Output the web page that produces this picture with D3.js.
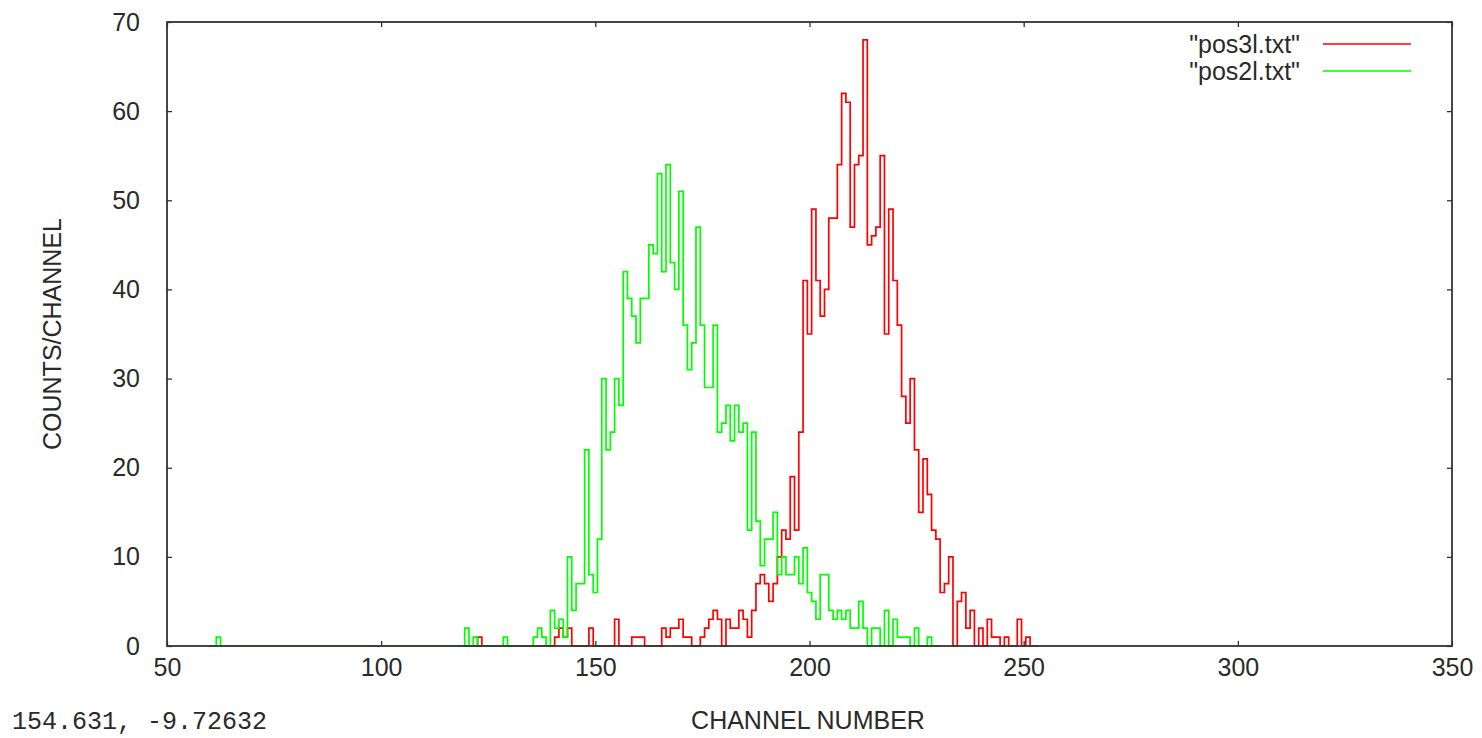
<!DOCTYPE html>
<html>
<head>
<meta charset="utf-8">
<script src="https://cdn.jsdelivr.net/npm/d3@7"></script>
<style>
  body { margin: 0; background: #fff; }
  text { font-family: "Liberation Sans", Arial, sans-serif; fill: #2a2a2a; }
</style>
</head>
<body>
<svg id="graph" width="1482" height="738"></svg>
<script>
// channel counts, one value per channel starting at the *Start channel
var pos3Start = 120;
var pos3Counts = [
  0, 0, 0, 1, 0, 0, 0, 0, 0, 0,        // 120
  0, 0, 0, 0, 0, 0, 0, 0, 0, 0,        // 130
  0, 1, 2, 1, 2, 0, 0, 0, 0, 2,        // 140
  0, 0, 0, 0, 0, 3, 0, 0, 0, 1,        // 150
  1, 1, 0, 0, 0, 0, 2, 1, 2, 2,        // 160
  3, 1, 1, 0, 0, 1, 2, 3, 4, 3,        // 170
  0, 3, 2, 2, 4, 3, 1, 4, 7, 8,        // 180
  7, 5, 7, 10, 13, 12, 19, 13, 24, 41, // 190
  35, 49, 41, 37, 40, 48, 48, 54, 62, 61, // 200
  47, 54, 55, 68, 45, 46, 47, 55, 35, 49, // 210
  41, 36, 28, 25, 30, 22, 15, 21, 17, 13, // 220
  12, 6, 7, 10, 0, 5, 6, 2, 4, 0,      // 230
  2, 0, 3, 1, 1, 0, 1, 0, 0, 3,        // 240
  0, 1, 0, 0                           // 250
];

var pos2Start = 60;
var pos2Counts = [
  0, 0, 1, 0, 0, 0, 0, 0, 0, 0,        // 60
  0, 0, 0, 0, 0, 0, 0, 0, 0, 0,        // 70
  0, 0, 0, 0, 0, 0, 0, 0, 0, 0,        // 80
  0, 0, 0, 0, 0, 0, 0, 0, 0, 0,        // 90
  0, 0, 0, 0, 0, 0, 0, 0, 0, 0,        // 100
  0, 0, 0, 0, 0, 0, 0, 0, 0, 0,        // 110
  2, 0, 1, 0, 0, 0, 0, 0, 0, 1,        // 120
  0, 0, 0, 0, 0, 0, 1, 2, 1, 0,        // 130
  4, 2, 3, 1, 10, 4, 7, 7, 22, 8,      // 140
  6, 12, 30, 22, 24, 30, 27, 42, 39, 37, // 150
  34, 39, 39, 45, 44, 53, 42, 54, 43, 40, // 160
  51, 36, 31, 34, 47, 36, 29, 29, 36, 24, // 170
  25, 27, 23, 27, 24, 25, 13, 24, 14, 9,  // 180
  12, 12, 15, 8, 10, 8, 8, 10, 7, 11,  // 190
  6, 5, 3, 8, 8, 4, 3, 4, 3, 4,        // 200
  2, 2, 5, 2, 0, 2, 2, 0, 4, 0,        // 210
  3, 1, 1, 1, 0, 2, 0, 0, 1, 0,        // 220
  0
];

var series = [
  { name: '"pos3l.txt"', start: pos3Start, counts: pos3Counts, color: "#ff0000" },
  { name: '"pos2l.txt"', start: pos2Start, counts: pos2Counts, color: "#00ff00" }
];

var xTicks = [50, 100, 150, 200, 250, 300, 350];
var yTicks = [0, 10, 20, 30, 40, 50, 60, 70];

var svg = d3.select("#graph");

var x = d3.scaleLinear().domain([50, 350]).range([167, 1452]);
var y = d3.scaleLinear().domain([0, 70]).range([646, 22]);

var fs = 25;

function styleAxis(g) {
  g.select(".domain").remove();
  g.selectAll(".tick line").attr("stroke", "#222").attr("stroke-width", 1.2);
  g.selectAll(".tick text")
    .attr("fill", "#2a2a2a")
    .style("font-size", fs + "px")
    .style("font-family", '"Liberation Sans", Arial, sans-serif');
}

// histeps: each channel is a flat step from c-0.5 to c+0.5
var step = d3.line()
  .x(function(d) { return x(d[0]); })
  .y(function(d) { return y(d[1]); })
  .curve(d3.curveStepAfter);

series.forEach(function(s) {
  var pts = s.counts.map(function(v, i) { return [s.start + i - 0.5, v]; });
  pts.push([s.start + s.counts.length - 0.5, s.counts[s.counts.length - 1]]);
  svg.append("path")
    .datum(pts)
    .attr("d", step)
    .attr("fill", "none")
    .attr("stroke", s.color)
    .attr("stroke-width", 1.7)
    .attr("stroke-linejoin", "miter");
});

// axes with inward ticks, mirrored on top and right
svg.append("g").attr("transform", "translate(0,646)")
  .call(d3.axisBottom(x).tickValues(xTicks).tickSize(-5).tickPadding(12))
  .call(styleAxis);
svg.append("g").attr("transform", "translate(0,22)")
  .call(d3.axisTop(x).tickValues(xTicks).tickSize(-5).tickFormat(""))
  .call(styleAxis);
svg.append("g").attr("transform", "translate(167,0)")
  .call(d3.axisLeft(y).tickValues(yTicks).tickSize(-5).tickPadding(27))
  .call(styleAxis);
svg.append("g").attr("transform", "translate(1452,0)")
  .call(d3.axisRight(y).tickValues(yTicks).tickSize(-5).tickFormat(""))
  .call(styleAxis);

// border
svg.append("rect")
  .attr("x", x(50)).attr("y", y(70))
  .attr("width", x(350) - x(50)).attr("height", y(0) - y(70))
  .attr("fill", "none").attr("stroke", "#333").attr("stroke-width", 1.8);

// axis titles
svg.append("text")
  .attr("x", 808).attr("y", 729)
  .attr("text-anchor", "middle")
  .style("font-size", fs + "px")
  .text("CHANNEL NUMBER");

svg.append("text")
  .attr("transform", "translate(61,334) rotate(-90)")
  .attr("text-anchor", "middle")
  .style("font-size", fs + "px")
  .text("COUNTS/CHANNEL");

// key
var key = svg.append("g").selectAll("g").data(series).join("g")
  .attr("transform", function(d, i) { return "translate(0," + (44 + i * 27) + ")"; });
key.append("text")
  .attr("x", 1300).attr("y", 9)
  .attr("text-anchor", "end")
  .style("font-size", fs + "px")
  .text(function(d) { return d.name; });
key.append("line")
  .attr("x1", 1323).attr("x2", 1411)
  .attr("stroke", function(d) { return d.color; })
  .attr("stroke-width", 1.7);

// mouse position readout in the corner
svg.append("text")
  .attr("x", 12).attr("y", 729)
  .style("font-family", '"Liberation Mono", monospace')
  .style("font-size", "25px")
  .text("154.631, -9.72632");
</script>
</body>
</html>
